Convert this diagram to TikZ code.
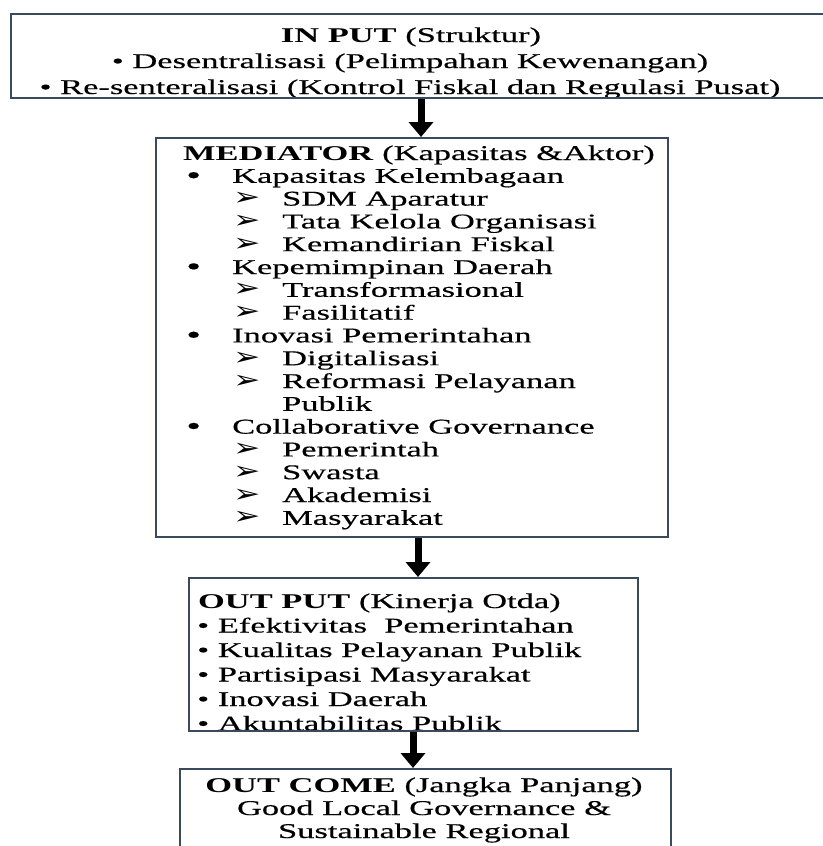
\documentclass[tikz,border=0pt]{standalone}
\usepackage{fontspec}
\setmainfont{Liberation Serif}[FakeStretch=1.64,UprightFeatures={FakeBold=0.4}]
\newfontfamily\dejavu{DejaVu Sans}[FakeStretch=1.3]
\usetikzlibrary{arrows.meta}
\definecolor{boxc}{HTML}{3A4A5C}
\newcommand{\arr}{{\dejavu\fontsize{25}{25}\selectfont ➢}}
\newcommand{\bigdot}{{\fontsize{26}{26}\selectfont •}}
\begin{document}
\begin{tikzpicture}[x=1pt,y=-1pt,font=\fontsize{21}{23}\selectfont,
  box/.style={draw=boxc,line width=2pt,rectangle,inner sep=0pt,anchor=north west},
  txt/.style={anchor=base west,inner sep=0pt},
  ctxt/.style={anchor=base,inner sep=0pt},
  bigarrow/.style={line width=7pt,-{Triangle[width=24pt,length=15pt]}}]
\useasboundingbox (0,0) rectangle (822,846);
\fill[white] (0,0) rectangle (822,846);
% boxes
\node[box,minimum width=816pt,minimum height=84pt] (inp) at (10,13) {};
\node[box,minimum width=512pt,minimum height=399pt] (med) at (155,137) {};
\node[box,minimum width=449pt,minimum height=153pt] (outp) at (188,577) {};
\node[box,minimum width=491pt,minimum height=110pt] (oc) at (179,768) {};
% input text
\begin{scope}
\clip (11,14) rectangle (822,96);
\node[ctxt] (i0) at (411,42) {\textbf{IN PUT} (Struktur)};
\node[ctxt] (i1) at (410,68) {• Desentralisasi (Pelimpahan Kewenangan)};
\node[ctxt] (i2) at (410,94) {• Re-senteralisasi (Kontrol Fiskal dan Regulasi Pusat)};
\end{scope}
% mediator text
\node[txt] (m0) at (183,160) {\textbf{MEDIATOR} (Kapasitas \&Aktor)};
\foreach \i/\lev/\t in {1/1/Kapasitas Kelembagaan,2/2/SDM Aparatur,3/2/Tata Kelola Organisasi,
  4/2/Kemandirian Fiskal,5/1/Kepemimpinan Daerah,6/2/Transformasional,7/2/Fasilitatif,
  8/1/Inovasi Pemerintahan,9/2/Digitalisasi,10/2/Reformasi Pelayanan,11/3/Publik,
  12/1/Collaborative Governance,13/2/Pemerintah,14/2/Swasta,15/2/Akademisi,16/2/Masyarakat}{
  \pgfmathsetmacro{\yy}{160+22.8*\i}
  \ifnum\lev=1
    \node[txt] (mb\i) at (186,\yy+1) {\bigdot};
    \node[txt] (m\i) at (232,\yy) {\t};
  \else\ifnum\lev=2
    \node[txt] (mb\i) at (233,\yy) {\arr};
    \node[txt] (m\i) at (282,\yy) {\t};
  \else
    \node[txt] (m\i) at (282,\yy) {\t};
  \fi\fi
}
% output text
\begin{scope}
\clip (189,578) rectangle (636,729);
\node[txt] (o0) at (198,608) {\textbf{OUT PUT} (Kinerja Otda)};
\node[txt] (o1) at (197,632.5) {• Efektivitas\ \ Pemerintahan};
\node[txt] (o2) at (197,657) {• Kualitas Pelayanan Publik};
\node[txt] (o3) at (197,681.5) {• Partisipasi Masyarakat};
\node[txt] (o4) at (197,706) {• Inovasi Daerah};
\node[txt] (o5) at (197,730.5) {• Akuntabilitas Publik};
\end{scope}
% outcome text
\node[ctxt] (c0) at (424,792) {\textbf{OUT COME} (Jangka Panjang)};
\node[ctxt] (c1) at (424,815) {Good Local Governance \&};
\node[ctxt] (c2) at (424,838) {Sustainable Regional};
% arrows
\coordinate (a1) at (421,0);
\coordinate (a2) at (418,0);
\coordinate (a3) at (413,0);
\draw[bigarrow] (inp.south -| a1) -- (med.north -| a1);
\draw[bigarrow] (med.south -| a2) -- (outp.north -| a2);
\draw[bigarrow] (outp.south -| a3) -- (oc.north -| a3);
\end{tikzpicture}
\end{document}
